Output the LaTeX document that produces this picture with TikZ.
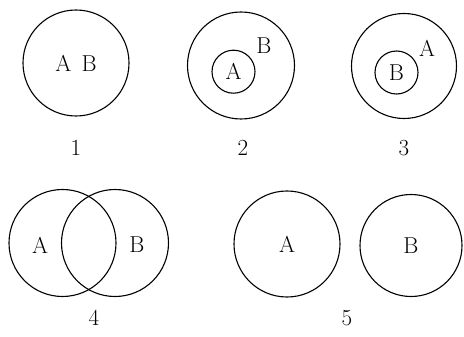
\documentclass[tikz,border=0pt]{standalone}
\usepackage{tikz}
\usetikzlibrary{positioning}

\begin{document}
\begin{tikzpicture}[
    x=1pt, y=-1pt,
    set/.style={draw, circle, line width=1.1pt, inner sep=0pt},
    lbl/.style={font=\fontsize{23}{28}\selectfont, inner sep=0pt}
]
\useasboundingbox (0,0) rectangle (464,337);

% case 1: A = B
\node[set, minimum size=106pt] (one) at (76,63) {};
\node[lbl] (oneAB) at (one.center) {A\hspace{0.45em}B};
\node[lbl] (num1) at (76,148) {1};

% case 2: A inside B
\node[set, minimum size=107pt] (twoB) at (241,65.5) {};
\node[set, minimum size=43pt] (twoA) at (233.5,71.7) {};
\node[lbl] (twoAl) at (twoA.center) {A};
\node[lbl] (twoBl) at (264,45.5) {B};
\node[lbl] (num2) at (243,148) {2};

% case 3: B inside A
\node[set, minimum size=105pt] (threeA) at (404,66) {};
\node[set, minimum size=43pt] (threeB) at (396.5,72.5) {};
\node[lbl] (threeBl) at (threeB.center) {B};
\node[lbl] (threeAl) at (427,48) {A};
\node[lbl] (num3) at (404,148) {3};

% case 4: overlap
\node[set, minimum size=107pt] (fourA) at (62.5,243) {};
\node[set, minimum size=107pt] (fourB) at (115,243) {};
\node[lbl] (fourAl) at (40,245) {A};
\node[lbl] (fourBl) at (137,245) {B};
\node[lbl] (num4) at (94,318) {4};

% case 5: disjoint
\node[set, minimum size=106pt] (fiveA) at (287,244) {};
\node[set, minimum size=102pt] (fiveB) at (411,245.5) {};
\node[lbl] (fiveAl) at (fiveA.center) {A};
\node[lbl] (fiveBl) at (fiveB.center) {B};
\node[lbl] (num5) at (347,318) {5};

\end{tikzpicture}
\end{document}
